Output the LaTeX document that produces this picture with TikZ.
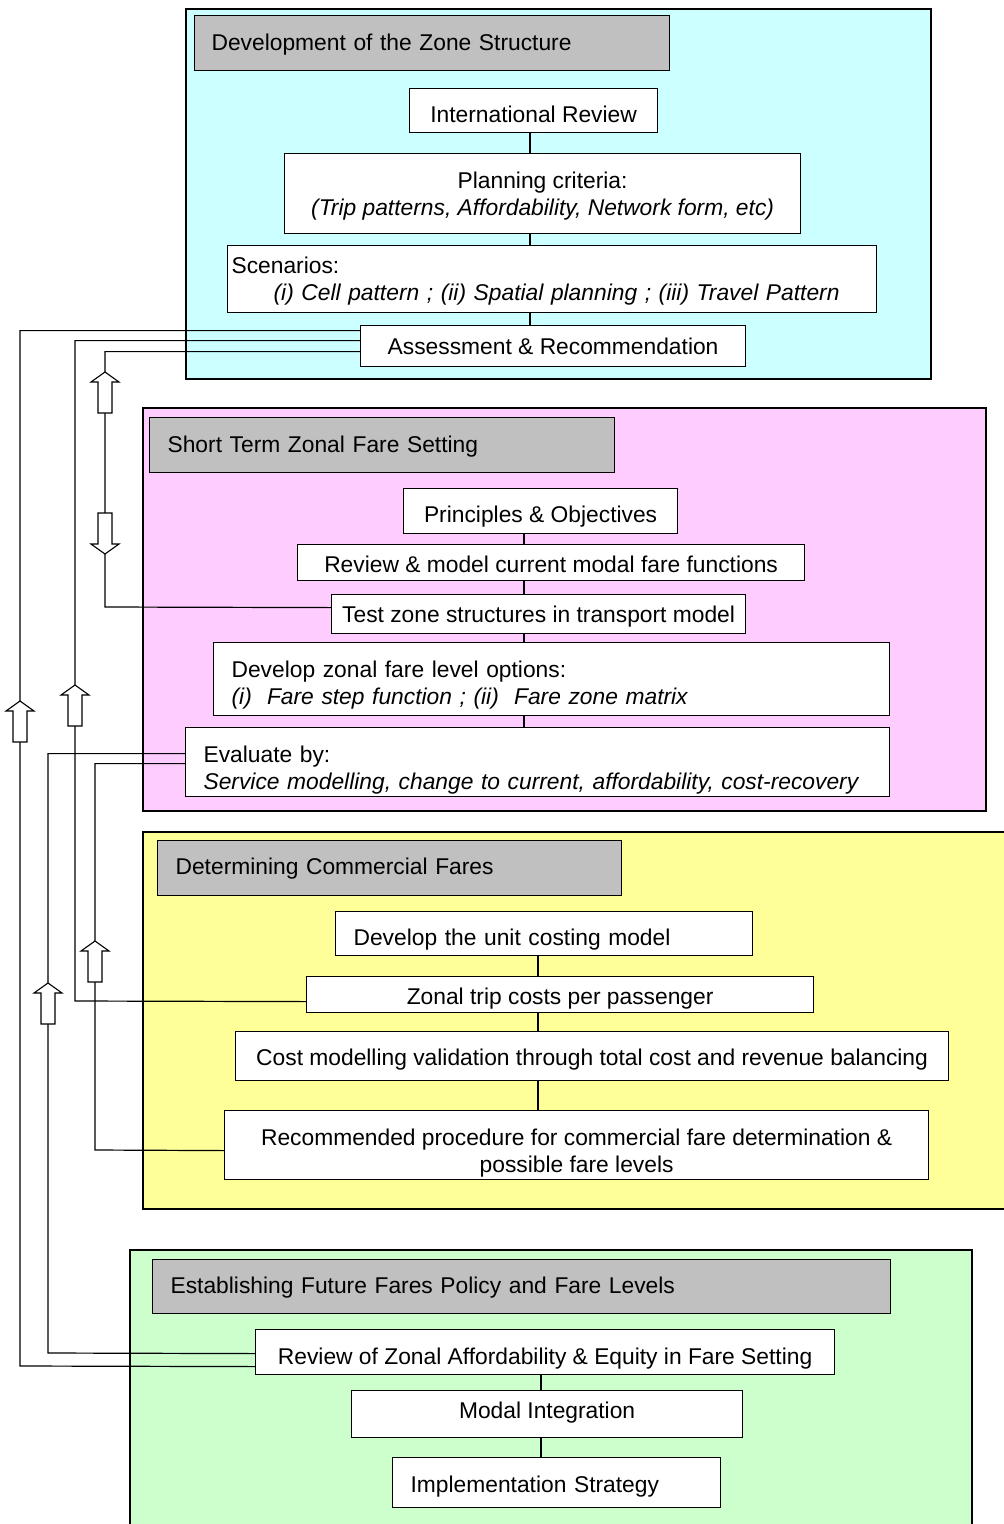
\documentclass[tikz,border=0pt]{standalone}
\usepackage{fontspec}
\setmainfont{Liberation Sans}
\definecolor{cyanbg}{HTML}{CCFFFF}
\definecolor{pinkbg}{HTML}{FFCCFF}
\definecolor{yellowbg}{HTML}{FFFF99}
\definecolor{greenbg}{HTML}{CCFFCC}
\definecolor{hdgray}{HTML}{C0C0C0}
\newcommand\firstln[1]{\rule{0pt}{#1pt}}
\newcommand\lastln{\rule[-6pt]{0pt}{0pt}}
\begin{document}
\begin{tikzpicture}[x=1pt,y=-1pt,
  font=\fontsize{22.8}{26.5}\selectfont,
  box/.style={draw, fill=white, line width=1.2pt, inner sep=0pt, anchor=north west},
  hdr/.style={box, fill=hdgray, align=left},
  th/.style={text height=#1pt, text depth=0pt},
  link/.style={line width=1.2pt},
  frame/.style={line width=1.2pt},
  pics/uparr/.style={code={\draw[fill=white,line width=1.1pt,line join=miter]
     (0,0) -- (14,10) -- (7,10) -- (7,41) -- (-7,41) -- (-7,10) -- (-14,10) -- cycle;}},
  pics/downarr/.style={code={\draw[fill=white,line width=1.1pt,line join=miter]
     (0,0) -- (14,-10) -- (7,-10) -- (7,-41) -- (-7,-41) -- (-7,-10) -- (-14,-10) -- cycle;}}]
\useasboundingbox (0,0) rectangle (1004,1524);

% section frames
\filldraw[fill=cyanbg, frame] (186,9) rectangle (931,379);
\filldraw[fill=pinkbg, frame] (143,408) rectangle (986,811);
\fill[yellowbg] (143,832) rectangle (1004,1209);
\draw[frame] (1004,832) -- (143,832) -- (143,1209) -- (1004,1209);
\fill[greenbg] (130,1250) rectangle (972,1524);
\draw[frame] (130,1524) -- (130,1250) -- (972,1250) -- (972,1524);

% section 1
\node[hdr, th=15.4, minimum height=55pt, inner xsep=17pt, text width=441pt] (h1) at (194,15) {Development of the Zone Structure};
\node[box, th=24.4, minimum width=248pt, minimum height=44pt] (ir) at (409,88) {International Review};
\node[box, minimum width=516pt, minimum height=80pt, align=center] (pc) at (284,153)
  {\firstln{22.9}Planning criteria:\\\textit{(Trip patterns, Affordability, Network form, etc)}\lastln};
\node[box, minimum height=67pt, inner xsep=4pt, text width=641pt, align=left] (sc) at (227,245)
  {\firstln{21.9}Scenarios:\\\hspace*{42pt}\textit{(i) Cell pattern ; (ii) Spatial planning ; (iii) Travel Pattern}\lastln};
\node[box, th=17.4, minimum width=385pt, minimum height=41pt] (ar) at (360,325) {Assessment \& Recommendation};

% section 2
\node[hdr, th=15.4, minimum height=55pt, inner xsep=18pt, text width=429pt] (h2) at (149,417) {Short Term Zonal Fare Setting};
\node[box, th=23.4, minimum width=274pt, minimum height=45pt] (po) at (403,488) {Principles \& Objectives};
\node[box, th=20.4, minimum width=507pt, minimum height=36pt] (rm) at (297,544) {Review \& model current modal fare functions};
\node[box, th=17.4, minimum width=414pt, minimum height=39pt] (tz) at (331,594) {Test zone structures in transport model};
\node[box, minimum height=73pt, inner xsep=18pt, text width=640pt, align=left] (dz) at (213,642)
  {\firstln{29.9}Develop zonal fare level options:\\\textit{(i)\ \ Fare step function ; (ii)\ \ Fare zone matrix}\lastln};
\node[box, minimum height=69pt, inner xsep=18pt, text width=668pt, align=left] (ev) at (185,727)
  {\firstln{33.9}Evaluate by:\\\textit{Service modelling, change to current, affordability, cost-recovery}\lastln};

% section 3
\node[hdr, th=13.4, minimum height=55pt, inner xsep=18pt, text width=428pt] (h3) at (157,840) {Determining Commercial Fares};
\node[box, th=24.4, minimum height=44pt, inner xsep=18pt, text width=381pt, align=left] (uc) at (335,911) {Develop the unit costing model};
\node[box, th=20.4, minimum width=507pt, minimum height=36pt] (zt) at (306,976) {Zonal trip costs per passenger};
\node[box, th=19.4, minimum width=713pt, minimum height=49pt] (cm) at (235,1031) {Cost modelling validation through total cost and revenue balancing};
\node[box, minimum width=704pt, minimum height=69pt, align=center] (rp) at (224,1110)
  {\firstln{33.9}Recommended procedure for commercial fare determination \&\\possible fare levels\lastln};

% section 4
\node[hdr, th=14.4, minimum height=54pt, inner xsep=18pt, text width=702pt] (h4) at (152,1259) {Establishing Future Fares Policy and Fare Levels};
\node[box, th=25.4, minimum width=579pt, minimum height=45pt] (rz) at (255,1329) {Review of Zonal Affordability \& Equity in Fare Setting};
\node[box, th=9.4, minimum width=391pt, minimum height=47pt] (mi) at (351,1390) {Modal Integration};
\node[box, th=20.4, minimum height=50pt, inner xsep=18pt, text width=292pt, align=left] (is) at (392,1457) {Implementation Strategy};

% vertical links inside sections
\coordinate (v1) at (530,0);
\coordinate (v2) at (524,0);
\coordinate (v3) at (538,0);
\coordinate (v4) at (541,0);
\draw[link] (ir.south -| v1) -- (pc.north -| v1);
\draw[link] (pc.south -| v1) -- (sc.north -| v1);
\draw[link] (sc.south -| v1) -- (ar.north -| v1);
\draw[link] (po.south -| v2) -- (rm.north -| v2);
\draw[link] (rm.south -| v2) -- (tz.north -| v2);
\draw[link] (tz.south -| v2) -- (dz.north -| v2);
\draw[link] (dz.south -| v2) -- (ev.north -| v2);
\draw[link] (uc.south -| v3) -- (zt.north -| v3);
\draw[link] (zt.south -| v3) -- (cm.north -| v3);
\draw[link] (cm.south -| v3) -- (rp.north -| v3);
\draw[link] (rz.south -| v4) -- (mi.north -| v4);
\draw[link] (mi.south -| v4) -- (is.north -| v4);

% feedback connectors
\draw[link] ([yshift=15.5pt]ar.west) -| (20,1366) -- ([yshift=-14.5pt]rz.west);
\draw[link] ([yshift=5.5pt]ar.west) -| (75,1001) -- ([yshift=-7pt]zt.west);
\draw[link] ([yshift=-5.5pt]ar.west) -| (105,607) -- ([yshift=6.5pt]tz.west);
\draw[link] ([yshift=8.5pt]ev.west) -| (48,1353) -- ([yshift=-1.5pt]rz.west);
\draw[link] ([yshift=-1.5pt]ev.west) -| (95,1150) -- ([yshift=-5.5pt]rp.west);

% block arrows
\pic at (105,372) {uparr};
\pic at (105,554) {downarr};
\pic at (20,701) {uparr};
\pic at (75,685) {uparr};
\pic at (95,941) {uparr};
\pic at (48,983) {uparr};
\end{tikzpicture}
\end{document}
